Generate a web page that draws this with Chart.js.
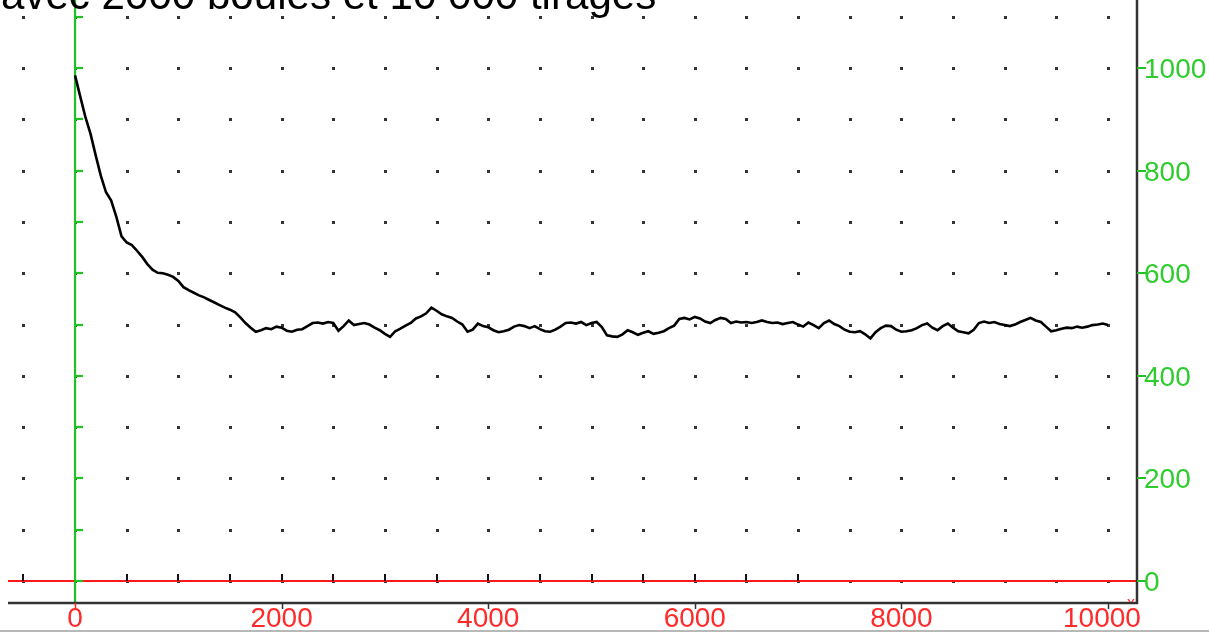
<!DOCTYPE html>
<html>
<head>
<meta charset="utf-8">
<script src="https://cdn.jsdelivr.net/npm/chart.js@4/dist/chart.umd.min.js"></script>
<style>
html,body{margin:0;padding:0;background:#fff;overflow:hidden;}
#c{display:block;}
</style>
</head>
<body>
<canvas id="c" width="1209" height="633"></canvas>
<script>
const titre = "avec 2000 boules et 10 000 tirages";
const tirages = [0,50,100,150,200,250,300,350,400,450,500,550,600,650,700,750,800,850,900,950,
1000,1050,1100,1150,1200,1250,1300,1350,1400,1450,1500,1550,1600,1650,1700,1750,1800,1850,1900,1950,
2000,2050,2100,2150,2200,2250,2300,2350,2400,2450,2500,2550,2600,2650,2700,2750,2800,2850,2900,2950,
3000,3050,3100,3150,3200,3250,3300,3350,3400,3450,3500,3550,3600,3650,3700,3750,3800,3850,3900,3950,
4000,4050,4100,4150,4200,4250,4300,4350,4400,4450,4500,4550,4600,4650,4700,4750,4800,4850,4900,4950,
5000,5050,5100,5150,5200,5250,5300,5350,5400,5450,5500,5550,5600,5650,5700,5750,5800,5850,5900,5950,
6000,6050,6100,6150,6200,6250,6300,6350,6400,6450,6500,6550,6600,6650,6700,6750,6800,6850,6900,6950,
7000,7050,7100,7150,7200,7250,7300,7350,7400,7450,7500,7550,7600,7650,7700,7750,7800,7850,7900,7950,
8000,8050,8100,8150,8200,8250,8300,8350,8400,8450,8500,8550,8600,8650,8700,8750,8800,8850,8900,8950,
9000,9050,9100,9150,9200,9250,9300,9350,9400,9450,9500,9550,9600,9650,9700,9750,9800,9850,9900,9950,10000];
const valeurs = [986,945,905,872,830,790,758,742,710,672,660,655,644,632,618,607,601,600,597,593,
585,573,567,562,557,553,548,543,538,533,529,524,514,503,494,486,489,493,491,496,
494,488,486,490,491,497,503,504,502,505,503,488,497,508,499,501,503,500,494,489,
482,476,487,492,498,503,512,516,522,533,527,520,516,513,506,500,486,490,502,497,
495,489,485,487,490,496,499,497,493,497,491,487,486,490,496,503,504,502,505,499,
503,505,495,479,477,476,481,489,485,480,484,487,482,484,487,493,498,511,513,510,
515,512,506,503,509,513,511,503,506,504,505,503,505,508,505,503,504,501,503,505,
500,496,504,499,493,503,508,501,497,490,486,485,487,481,473,485,493,498,497,490,
486,487,489,493,499,502,494,489,497,502,494,487,485,483,490,503,506,503,505,501,
499,497,500,505,509,513,508,505,496,487,489,492,494,493,496,494,496,499,500,502,499];
const xEtiquettes = [0,2000,4000,6000,8000,10000];
const yEtiquettes = [0,200,400,600,800,1000];
const xPas = 500, yPas = 100;
const xMin = -649, xMax = 10281, yMin = -43, yMax = 1133;

const FONT = '"Liberation Sans", Arial, sans-serif';
const decor = {
  id: 'decor',
  beforeDatasetsDraw(chart) {
    const ctx = chart.ctx, xs = chart.scales.x, ys = chart.scales.y, a = chart.chartArea;
    ctx.save();
    // grid dots
    ctx.fillStyle = '#333';
    for (let vx = -500; vx <= 10000; vx += xPas) {
      for (let vy = 0; vy <= 1100; vy += yPas) {
        const px = Math.round(xs.getPixelForValue(vx)), py = Math.round(ys.getPixelForValue(vy));
        ctx.fillRect(px - 1, py - 1, 3, 3);
      }
    }
    // red x axis
    const y0 = ys.getPixelForValue(0);
    ctx.strokeStyle = '#ff1a1a'; ctx.lineWidth = 2;
    ctx.beginPath(); ctx.moveTo(a.left, y0); ctx.lineTo(a.right, y0); ctx.stroke();
    // black ticks on x axis
    ctx.strokeStyle = '#111'; ctx.lineWidth = 2;
    for (let vx = -500; vx <= 7000; vx += xPas) {
      const px = Math.round(xs.getPixelForValue(vx));
      ctx.beginPath(); ctx.moveTo(px, y0 - 7); ctx.lineTo(px, y0); ctx.stroke();
    }
    // green y axis
    const x0 = xs.getPixelForValue(0);
    ctx.strokeStyle = '#22c022'; ctx.lineWidth = 2.2;
    ctx.beginPath(); ctx.moveTo(x0, 0); ctx.lineTo(x0, a.bottom); ctx.stroke();
    for (let vy = 0; vy <= 1100; vy += yPas) {
      const py = Math.round(ys.getPixelForValue(vy));
      ctx.beginPath(); ctx.moveTo(x0, py); ctx.lineTo(x0 + 8, py); ctx.stroke();
    }
    ctx.restore();
  },
  afterDraw(chart) {
    const ctx = chart.ctx, xs = chart.scales.x, ys = chart.scales.y, a = chart.chartArea;
    ctx.save();
    // title (cut off at top)
    ctx.fillStyle = '#000';
    ctx.font = '42px ' + FONT;
    ctx.textBaseline = 'alphabetic'; ctx.textAlign = 'left';
    const w = ctx.measureText(titre).width;
    const size = 42 * 655 / w;
    ctx.font = size.toFixed(1) + 'px ' + FONT;
    ctx.fillText(titre, 1, 9);
    // right black axis
    ctx.strokeStyle = '#333'; ctx.lineWidth = 2.5;
    ctx.beginPath(); ctx.moveTo(a.right, 0); ctx.lineTo(a.right, a.bottom + 1); ctx.stroke();
    // bottom black line
    ctx.beginPath(); ctx.moveTo(a.left, a.bottom); ctx.lineTo(a.right + 1, a.bottom); ctx.stroke();
    // right green ticks & labels
    ctx.strokeStyle = '#22c022'; ctx.lineWidth = 2;
    ctx.fillStyle = '#2ecc2e';
    ctx.font = '28px ' + FONT; ctx.textBaseline = 'middle'; ctx.textAlign = 'left';
    yEtiquettes.forEach(v => {
      const py = Math.round(ys.getPixelForValue(v));
      ctx.beginPath(); ctx.moveTo(a.right, py); ctx.lineTo(a.right + 9, py); ctx.stroke();
      ctx.fillText(String(v), a.right + 7, py + 2);
    });
    // bottom red labels
    ctx.fillStyle = '#ff2a2a';
    ctx.textAlign = 'center'; ctx.textBaseline = 'top';
    xEtiquettes.forEach(v => {
      const px = xs.getPixelForValue(v);
      ctx.fillText(String(v), v === 10000 ? px - 6 : px, a.bottom + 2);
      ctx.strokeStyle = v === 0 ? '#ff2a2a' : '#333'; ctx.lineWidth = 1.5;
      ctx.beginPath(); ctx.moveTo(Math.round(px) + 0.5, a.bottom); ctx.lineTo(Math.round(px) + 0.5, a.bottom + 6); ctx.stroke();
    });
    // axis name x (partially hidden)
    ctx.save();
    ctx.beginPath(); ctx.rect(a.right - 20, a.bottom - 20, 20, 19); ctx.clip();
    ctx.font = '16px ' + FONT; ctx.textAlign = 'center'; ctx.textBaseline = 'alphabetic';
    ctx.fillStyle = '#ff2a2a';
    ctx.fillText('x', a.right - 6, a.bottom + 5);
    ctx.restore();
    // bottom gray line
    ctx.strokeStyle = '#a0a0a0'; ctx.lineWidth = 1.5;
    ctx.beginPath(); ctx.moveTo(0, 631); ctx.lineTo(1209, 631); ctx.stroke();
    ctx.restore();
  }
};

new Chart(document.getElementById('c'), {
  type: 'line',
  data: {
    datasets: [{
      data: tirages.map((t, i) => ({x: t, y: valeurs[i]})),
      borderColor: '#000',
      borderWidth: 2.6,
      pointRadius: 0,
      tension: 0,
      fill: false
    }]
  },
  options: {
    responsive: false,
    animation: false,
    devicePixelRatio: 1,
    layout: {padding: {left: 8, right: 72, top: 0, bottom: 30}},
    plugins: {legend: {display: false}, tooltip: {enabled: false}, title: {display: false}},
    scales: {
      x: {type: 'linear', min: xMin, max: xMax, display: false},
      y: {type: 'linear', min: yMin, max: yMax, display: false}
    }
  },
  plugins: [decor]
});
</script>
</body>
</html>
